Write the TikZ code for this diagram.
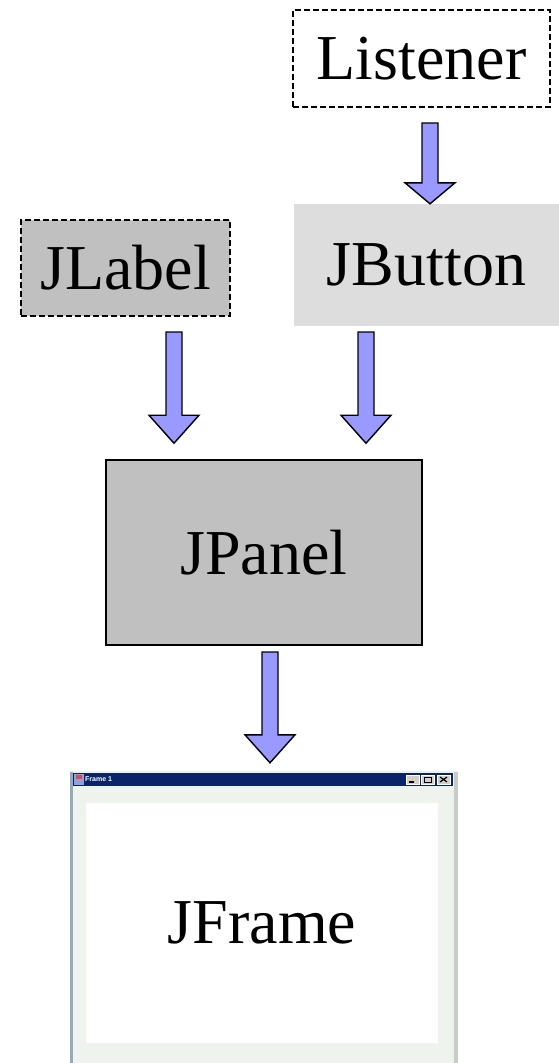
\documentclass[tikz,border=0pt]{standalone}
\usepackage{fontspec}
\setmainfont{Liberation Serif}
\newfontfamily\titlefont{Liberation Sans}
\usepackage{tikz}
\usetikzlibrary{calc}

\definecolor{lightbox}{HTML}{DDDDDD}
\definecolor{darkbox}{HTML}{C0C0C0}
\definecolor{arrowblue}{HTML}{9999FF}
\definecolor{winframe}{HTML}{EEF3EE}
\definecolor{titlebar}{HTML}{0A246A}
\definecolor{winbutton}{HTML}{D4D0C8}

% block arrow: start, tip, head length
\newcommand{\blockarrow}[3]{%
  \draw[blockarrow] let \p1=(#1), \p2=(#2) in
    (\x1-8pt,\y1) -- (\x1-8pt,\y2+#3pt) -- (\x1-25pt,\y2+#3pt) -- (\x1,\y2)
    -- (\x1+25pt,\y2+#3pt) -- (\x1+8pt,\y2+#3pt) -- (\x1+8pt,\y1) -- cycle;}

\begin{document}
\begin{tikzpicture}[x=1pt,y=-1pt,
  box/.style={rectangle,inner sep=0pt,font=\fontsize{64}{76}\selectfont},
  dashbox/.style={box,draw,line width=1.2pt,dash pattern=on 6pt off 3pt},
  blockarrow/.style={draw,fill=arrowblue,line width=1.4pt,line join=miter},
  winbtn/.style={fill=winbutton,draw=white,line width=0.6pt}]
\useasboundingbox (0,0) rectangle (559,1063);

\node[dashbox,fill=white,minimum width=257pt,minimum height=97pt] (listener) at (421.5,58.5) {Listener};
\node[dashbox,fill=darkbox,minimum width=209pt,minimum height=96pt] (jlabel) at (125.5,268) {JLabel};
\node[box,fill=lightbox,minimum width=265pt,minimum height=122pt] (jbutton) at (426.5,265) {JButton};
\node[box,draw,fill=darkbox,line width=1.5pt,minimum width=316pt,minimum height=185pt] (jpanel) at (264,552.5) {JPanel};

% the window
\node[box,fill=winframe,minimum width=388pt,minimum height=292pt] (jframe) at (264,917) {};
\draw[color={rgb,255:red,150;green,170;blue,190},line width=3pt] (71.5,772) -- (71.5,1063);
\draw[color={rgb,255:red,200;green,204;blue,200},line width=4pt] (455.5,772) -- (455.5,1063);
\fill[titlebar] (73,773) rectangle (453,786);
\fill[color={rgb,255:red,150;green,160;blue,210}] (74,774) rectangle (84,785);
\fill[color={rgb,255:red,210;green,80;blue,90}] (76,775) rectangle (82,779);
\node[anchor=west,inner sep=0pt,text=white,font=\titlefont\bfseries\fontsize{7}{8}\selectfont] (title) at (85,779.5) {Frame 1};
\draw[winbtn] (406,775) rectangle (419,784);
\draw[winbtn] (421,775) rectangle (434,784);
\draw[winbtn] (437,775) rectangle (450,784);
\draw[line width=1.2pt] (409,782) -- (414,782);
\draw[line width=0.8pt] (424,777) rectangle (431,782);
\draw[line width=1.2pt] (440,777) -- (447,782) (440,782) -- (447,777);
\node[box,fill=white,minimum width=352pt,minimum height=240pt] (jcontent) at (262,923) {JFrame};

\coordinate (lis-out) at (430,123);
\coordinate (lab-out) at (174,332);
\coordinate (but-out) at (366,332);
\coordinate (pan-out) at (270,652);

\blockarrow{lis-out}{lis-out |- jbutton.north}{21}
\blockarrow{lab-out}{$(lab-out |- jpanel.north)+(0,-16)$}{28}
\blockarrow{but-out}{$(but-out |- jpanel.north)+(0,-16)$}{28}
\blockarrow{pan-out}{$(pan-out |- jframe.north)+(0,-8)$}{28}
\end{tikzpicture}
\end{document}
